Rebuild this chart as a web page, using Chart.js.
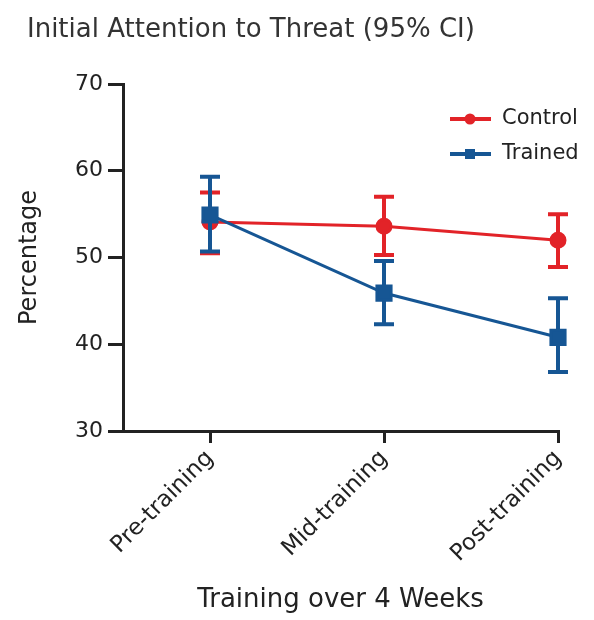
<!DOCTYPE html>
<html>
<head>
<meta charset="utf-8">
<script src="https://cdn.jsdelivr.net/npm/chart.js@4/dist/chart.umd.min.js"></script>
<style>
body { margin: 0; background: #fff; }
</style>
</head>
<body>
<canvas id="myChart" width="594" height="620"></canvas>
<script>
// data
var categories = ['Pre-training', 'Mid-training', 'Post-training'];
var controlMean = [54.1, 53.6, 52.0];
var controlLow = [50.5, 50.3, 48.9];
var controlHigh = [57.5, 57.0, 55.0];
var trainedMean = [54.9, 45.9, 40.8];
var trainedLow = [50.7, 42.3, 36.8];
var trainedHigh = [59.3, 49.6, 45.3];
var yTicks = [30, 40, 50, 60, 70];

var red = 'rgb(226, 35, 40)';
var blue = 'rgb(22, 86, 148)';
var ink = '#222';
var fontFamily = '"DejaVu Sans", Verdana, sans-serif';

function points(means) {
    return means.map(function (v, i) { return { x: i, y: v }; });
}

// draws the 95% CI bars under each dataset's own line
var errorBars = {
    id: 'errorBars',
    beforeDatasetDraw: function (chart, args) {
        var ds = chart.data.datasets[args.index];
        var xs = chart.scales.x, ys = chart.scales.y, c = chart.ctx;
        c.save();
        c.strokeStyle = ds.borderColor;
        c.lineWidth = 4;
        ds.low.forEach(function (lo, i) {
            var x = xs.getPixelForValue(i);
            var y1 = ys.getPixelForValue(lo), y2 = ys.getPixelForValue(ds.high[i]);
            c.beginPath();
            c.moveTo(x, y1); c.lineTo(x, y2);
            c.moveTo(x - 10, y1); c.lineTo(x + 10, y1);
            c.moveTo(x - 10, y2); c.lineTo(x + 10, y2);
            c.stroke();
        });
        c.restore();
    }
};

// title and inset legend
var decorations = {
    id: 'decorations',
    afterDraw: function (chart) {
        var c = chart.ctx;
        c.save();
        c.fillStyle = '#333';
        c.font = '26px ' + fontFamily;
        c.textBaseline = 'alphabetic';
        c.fillText('Initial Attention to Threat (95% CI)', 27, 37);

        c.textBaseline = 'middle';
        chart.data.datasets.forEach(function (ds, i) {
            var y = 119 + i * 35;
            c.strokeStyle = ds.borderColor;
            c.fillStyle = ds.borderColor;
            c.lineWidth = 4;
            c.beginPath();
            c.moveTo(450, y); c.lineTo(491, y);
            c.stroke();
            c.beginPath();
            if (ds.pointStyle === 'rect') {
                c.rect(465, y - 5, 10, 10);
            } else {
                c.arc(470, y, 5.5, 0, Math.PI * 2);
            }
            c.fill();
            c.fillStyle = ink;
            c.font = '21px ' + fontFamily;
            c.fillText(ds.label, 502, y);
        });
        c.restore();
    }
};

var ctx = document.getElementById('myChart').getContext('2d');
var myChart = new Chart(ctx, {
    type: 'line',
    data: {
        datasets: [{
            label: 'Control',
            data: points(controlMean),
            low: controlLow,
            high: controlHigh,
            borderColor: red,
            backgroundColor: red,
            borderWidth: 3,
            pointStyle: 'circle',
            pointRadius: 7,
            clip: false,
            order: 2
        }, {
            label: 'Trained',
            data: points(trainedMean),
            low: trainedLow,
            high: trainedHigh,
            borderColor: blue,
            backgroundColor: blue,
            borderWidth: 3,
            pointStyle: 'rect',
            pointRadius: 10,
            clip: false,
            order: 1
        }]
    },
    options: {
        responsive: false,
        animation: false,
        layout: { padding: { top: 84, left: 15, right: 36, bottom: 0 } },
        plugins: {
            legend: { display: false },
            tooltip: { enabled: false }
        },
        scales: {
            x: {
                type: 'linear',
                min: -0.5,
                max: 2,
                afterBuildTicks: function (scale) {
                    scale.ticks = categories.map(function (c, i) { return { value: i }; });
                },
                afterFit: function (scale) { scale.height = 189; },
                grid: {
                    drawOnChartArea: false,
                    color: ink,
                    lineWidth: 3,
                    tickLength: 12
                },
                border: { color: ink, width: 3 },
                ticks: {
                    color: ink,
                    font: { family: fontFamily, size: 23 },
                    minRotation: 45,
                    maxRotation: 45,
                    padding: 2,
                    callback: function (v) { return categories[v]; }
                },
                title: {
                    display: true,
                    text: 'Training over 4 Weeks',
                    color: ink,
                    font: { family: fontFamily, size: 26 },
                    padding: { top: 0, bottom: 4 }
                }
            },
            y: {
                min: yTicks[0],
                max: yTicks[yTicks.length - 1],
                afterBuildTicks: function (scale) {
                    scale.ticks = yTicks.map(function (v) { return { value: v }; });
                },
                afterFit: function (scale) { scale.width = 108; },
                grid: {
                    drawOnChartArea: false,
                    color: ink,
                    lineWidth: 3,
                    tickLength: 15
                },
                border: { color: ink, width: 3 },
                ticks: {
                    color: ink,
                    font: { family: fontFamily, size: 22 },
                    padding: 5
                },
                title: {
                    display: true,
                    text: 'Percentage',
                    color: ink,
                    font: { family: fontFamily, size: 24 },
                    padding: { top: 0, bottom: 0 }
                }
            }
        }
    },
    plugins: [errorBars, decorations]
});
</script>
</body>
</html>
